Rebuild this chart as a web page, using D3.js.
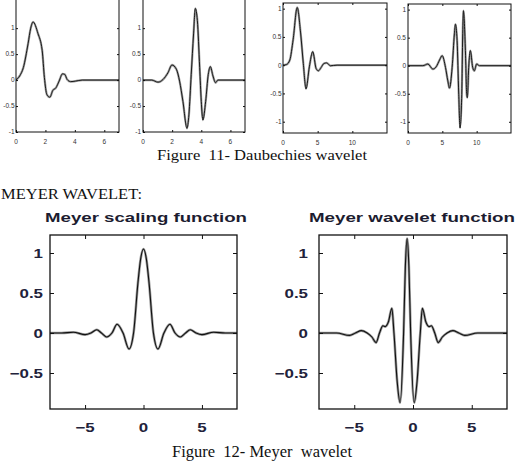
<!DOCTYPE html>
<html>
<head>
<meta charset="utf-8">
<script src="https://cdn.jsdelivr.net/npm/d3@7"></script>
<style>
  html, body { margin: 0; padding: 0; background: #fff; overflow: hidden; }
  svg { display: block; }
</style>
</head>
<body>
<div id="chart"></div>
<script>
const width = 516;
const height = 463;

// Daubechies, top row
const db1X = [0, 0.25, 0.5, 0.82, 1.0, 1.16, 1.49, 1.78, 1.93, 2.1, 2.3, 2.5, 2.71, 2.93, 3.16, 3.31, 3.48, 3.71, 4.04, 4.5, 7];
const db1Y = [0, 0.08, 0.24, 0.7, 1.0, 1.12, 0.9, 0.57, 0.05, -0.28, -0.33, -0.2, -0.15, -0.02, 0.12, 0.11, 0.01, -0.03, -0.02, 0, 0];

const db2X = [0, 0.6, 1.03, 1.37, 1.71, 1.99, 2.29, 2.51, 2.74, 3.02, 3.15, 3.31, 3.47, 3.59, 3.73, 3.89, 4.0, 4.11, 4.3, 4.48, 4.62, 4.8, 4.98, 5.14, 7];
const db2Y = [0, 0, -0.04, 0.01, 0.14, 0.29, 0.21, -0.02, -0.41, -0.93, -0.67, 0.11, 0.89, 1.38, 1.15, 0.24, -0.41, -0.77, -0.41, 0.11, 0.26, 0.08, -0.05, 0, 0];

const db3X = [0, 0.49, 0.98, 1.46, 2.05, 2.54, 2.93, 3.32, 3.8, 4.29, 4.78, 5.1, 5.5, 5.9, 6.3, 6.83, 7.8, 15];
const db3Y = [0, 0.01, 0.09, 0.45, 1.02, 0.57, 0.03, -0.42, -0.03, 0.24, -0.06, -0.1, -0.04, 0.03, 0.04, -0.01, 0, 0];

const db4X = [0, 2.17, 2.9, 3.62, 4.1, 4.59, 4.98, 5.46, 5.8, 6.04, 6.43, 6.76, 6.91, 7.15, 7.39, 7.58, 7.83, 7.97, 8.07, 8.36, 8.55, 8.65, 8.84, 9.08, 9.42, 9.66, 10, 10.4, 15];
const db4Y = [0, 0, 0.03, -0.06, -0.02, 0.1, 0.18, -0.03, -0.27, -0.4, -0.03, 0.57, 0.74, 0.45, -0.51, -1.11, -0.51, 0.57, 0.98, 0.27, -0.51, -0.57, -0.03, 0.27, -0.03, -0.09, 0.03, 0, 0];

// Meyer, bottom row
const phiX = [-8, -7, -6, -5, -4.5, -4, -3.6, -3.16, -2.7, -2.26, -1.75, -1.24, -0.85, -0.48, -0.25, 0, 0.25, 0.48, 0.85, 1.24, 1.75, 2.26, 2.7, 3.16, 3.6, 4, 4.5, 5, 6, 7, 8];
const phiY = [0, 0, 0.01, -0.02, 0, 0.04, 0, -0.05, 0, 0.11, 0, -0.2, 0, 0.62, 0.92, 1.05, 0.92, 0.62, 0, -0.2, 0, 0.11, 0, -0.05, 0, 0.04, 0, -0.02, 0.01, 0, 0];

const psiX = [-8, -6.5, -5.4, -4.9, -4.4, -3.9, -3.5, -3.14, -2.85, -2.56, -2.37, -2.09, -1.8, -1.62, -1.35, -1.1, -0.8, -0.65, -0.5, -0.35, -0.2, 0.1, 0.35, 0.62, 0.8, 1.09, 1.37, 1.56, 1.85, 2.14, 2.5, 2.9, 3.4, 3.9, 4.4, 5.5, 8];
const psiY = [0, 0, -0.03, 0, 0.03, 0, -0.05, -0.12, 0, 0.09, 0.08, 0.14, 0.31, 0, -0.6, -0.87, 0, 0.83, 1.18, 0.83, 0, -0.87, -0.6, 0, 0.31, 0.14, 0.08, 0.09, 0, -0.12, -0.05, 0, 0.03, 0, -0.03, 0, 0];

const dbTicksY = [-1, -0.5, 0, 0.5, 1];
const dbTicksX7 = [0, 2, 4, 6];
const dbTicksX15 = [0, 5, 10];
const meyerTicksX = [-5, 0, 5];
const meyerTicksY = [-0.5, 0, 0.5, 1];

const meyerTitles = ["Meyer scaling function", "Meyer wavelet function"];
const captions = ["Figure  11- Daubechies wavelet", "MEYER WAVELET:", "Figure  12- Meyer  wavelet"];

const svg = d3
  .select("#chart")
  .append("svg")
  .attr("width", width)
  .attr("height", height)
  .attr("viewBox", `0 0 ${width} ${height}`);

const dbStyle = {
  tick: 2, frame: 1, halo: "#a0a0a0", haloW: 2.3, core: "#1a1a1a", coreW: 1,
  font: "Arial, 'Liberation Sans', sans-serif", size: 6.5, weight: "normal",
  labelColor: "#333", sx: 1, fmt: (d) => (d < 0 ? "-" + Math.abs(d) : String(d)),
};
const meyerStyle = {
  tick: 4, frame: 1.3, halo: "#9c9c9c", haloW: 2.6, core: "#111", coreW: 1.1,
  font: "Arial, 'Liberation Sans', sans-serif", size: 13, weight: "bold",
  labelColor: "#22223a", sx: 1.3, fmt: (d) => (d < 0 ? "\u2212" + Math.abs(d) : String(d)),
};

let clipCount = 0;

function panel(cfg, st) {
  const x = d3.scaleLinear().domain(cfg.xDomain).range([cfg.left, cfg.right]);
  const y = d3.scaleLinear().domain(cfg.yDomain).range([cfg.bottom, cfg.top]);
  const g = svg.append("g");
  const clipId = "clip" + clipCount++;

  g.append("clipPath")
    .attr("id", clipId)
    .append("rect")
    .attr("x", cfg.left)
    .attr("y", cfg.top)
    .attr("width", cfg.right - cfg.left)
    .attr("height", cfg.bottom - cfg.top);

  const line = d3
    .line()
    .x((d) => x(d[0]))
    .y((d) => y(d[1]))
    .curve(d3.curveMonotoneX);
  const pts = d3.zip(cfg.xs, cfg.ys);

  g.append("path")
    .datum(pts)
    .attr("clip-path", `url(#${clipId})`)
    .attr("d", line)
    .attr("fill", "none")
    .attr("stroke", st.halo)
    .attr("stroke-width", st.haloW)
    .attr("stroke-linejoin", "round");
  g.append("path")
    .datum(pts)
    .attr("clip-path", `url(#${clipId})`)
    .attr("d", line)
    .attr("fill", "none")
    .attr("stroke", st.core)
    .attr("stroke-width", st.coreW)
    .attr("stroke-linejoin", "round");

  // inward ticks on all four sides
  const axes = [
    [d3.axisBottom(x).tickValues(cfg.xTicks), `translate(0,${cfg.bottom})`],
    [d3.axisTop(x).tickValues(cfg.xTicks), `translate(0,${cfg.top})`],
    [d3.axisLeft(y).tickValues(cfg.yTicks), `translate(${cfg.left},0)`],
    [d3.axisRight(y).tickValues(cfg.yTicks), `translate(${cfg.right},0)`],
  ];
  axes.forEach(([axis, tr]) => {
    const a = g
      .append("g")
      .attr("transform", tr)
      .call(axis.tickSize(-st.tick).tickFormat(""));
    a.select(".domain").remove();
    a.selectAll("line").attr("stroke", "#111").attr("stroke-width", 1);
  });

  g.append("rect")
    .attr("x", cfg.left)
    .attr("y", cfg.top)
    .attr("width", cfg.right - cfg.left)
    .attr("height", cfg.bottom - cfg.top)
    .attr("fill", "none")
    .attr("stroke", "#111")
    .attr("stroke-width", st.frame);

  g.selectAll(".xl")
    .data(cfg.xTicks)
    .join("text")
    .attr("transform", (d) => `translate(${x(d)},${cfg.xLabelY}) scale(${st.sx},1)`)
    .attr("text-anchor", "middle")
    .attr("font-family", st.font)
    .attr("font-size", st.size)
    .attr("font-weight", st.weight)
    .attr("fill", st.labelColor)
    .text(st.fmt);

  g.selectAll(".yl")
    .data(cfg.yTicks)
    .join("text")
    .attr("transform", (d) => `translate(${cfg.yLabelX},${y(d)}) scale(${st.sx},1)`)
    .attr("text-anchor", "end")
    .attr("dy", "0.36em")
    .attr("font-family", st.font)
    .attr("font-size", st.size)
    .attr("font-weight", st.weight)
    .attr("fill", st.labelColor)
    .text(st.fmt);
}

// top row
panel({ left: 16, right: 119, top: -3, bottom: 132, xDomain: [0, 7], yDomain: [-1, 1.6],
  xs: db1X, ys: db1Y, xTicks: dbTicksX7, yTicks: dbTicksY, xLabelY: 143.5, yLabelX: 14.5 }, dbStyle);
panel({ left: 143, right: 245, top: -3, bottom: 132, xDomain: [0, 7], yDomain: [-1, 1.6],
  xs: db2X, ys: db2Y, xTicks: dbTicksX7, yTicks: dbTicksY, xLabelY: 143.5, yLabelX: 141 }, dbStyle);
panel({ left: 283, right: 387, top: 3, bottom: 133, xDomain: [0, 15], yDomain: [-1.2, 1.1],
  xs: db3X, ys: db3Y, xTicks: dbTicksX15, yTicks: dbTicksY, xLabelY: 144.5, yLabelX: 281.5 }, dbStyle);
panel({ left: 408, right: 511, top: 4, bottom: 133, xDomain: [0, 15], yDomain: [-1.2, 1.1],
  xs: db4X, ys: db4Y, xTicks: dbTicksX15, yTicks: dbTicksY, xLabelY: 144.5, yLabelX: 406 }, dbStyle);

// bottom row
panel({ left: 50, right: 237, top: 235, bottom: 409, xDomain: [-8, 8], yDomain: [-0.95, 1.225],
  xs: phiX, ys: phiY, xTicks: meyerTicksX, yTicks: meyerTicksY, xLabelY: 432, yLabelX: 43 }, meyerStyle);
panel({ left: 319, right: 507, top: 235, bottom: 409, xDomain: [-8, 8], yDomain: [-0.95, 1.225],
  xs: psiX, ys: psiY, xTicks: meyerTicksX, yTicks: meyerTicksY, xLabelY: 432, yLabelX: 308 }, meyerStyle);

// titles over the Meyer plots
svg.selectAll(".mt")
  .data(meyerTitles)
  .join("text")
  .attr("x", (d, i) => (i === 0 ? 45 : 309))
  .attr("y", 222)
  .attr("textLength", (d, i) => (i === 0 ? 202 : 206))
  .attr("lengthAdjust", "spacingAndGlyphs")
  .attr("font-family", "Arial, 'Liberation Sans', sans-serif")
  .attr("font-size", 13)
  .attr("font-weight", "bold")
  .attr("fill", "#1c1c30")
  .text((d) => d);

// page text
const capPos = [
  { x: 157, y: 160, len: 210, size: 15 },
  { x: 1, y: 199, len: 141, size: 15 },
  { x: 172, y: 457, len: 180, size: 16 },
];
svg.selectAll(".cap")
  .data(captions)
  .join("text")
  .attr("x", (d, i) => capPos[i].x)
  .attr("y", (d, i) => capPos[i].y)
  .attr("textLength", (d, i) => capPos[i].len)
  .attr("lengthAdjust", "spacingAndGlyphs")
  .attr("font-family", "'Liberation Serif', 'Times New Roman', serif")
  .attr("font-size", (d, i) => capPos[i].size)
  .attr("fill", "#111")
  .attr("xml:space", "preserve")
  .style("white-space", "pre")
  .text((d) => d);
</script>
</body>
</html>
